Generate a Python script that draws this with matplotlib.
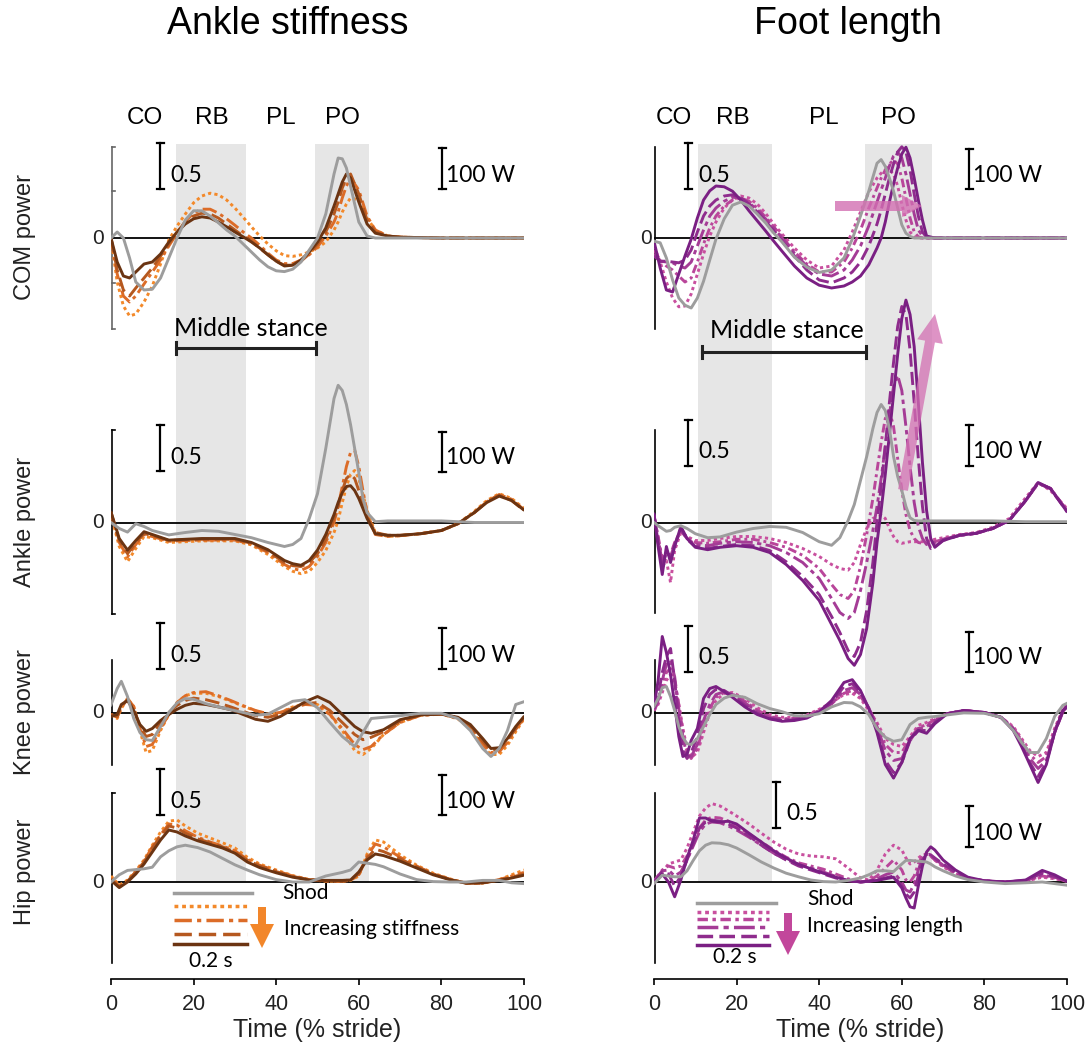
import numpy as np
import matplotlib
matplotlib.use("Agg")
import matplotlib.pyplot as plt
from matplotlib.patches import FancyArrow
from matplotlib.transforms import IdentityTransform

# ---------------- data (W) ----------------
# Left column: Ankle stiffness.  S1 = least stiff (dotted) ... S4 = stiffest (solid)
L_COM_X = [0, 1.5, 3, 4.5, 6, 8, 10, 12, 14, 16, 18, 20, 22, 24, 26, 28, 30, 32, 34, 36, 38, 40, 42, 44, 46, 48,
           50, 52, 54, 55, 56, 57, 58, 60, 62, 64, 67, 70, 80, 90, 100]
L_COM_SHOD = [0, 15, 0, -50, -110, -130, -128, -100, -50, 0, 45, 68, 68, 55, 38, 20, 5, -15, -35, -55, -72, -82, -84,
              -78, -60, -30, 0, 60, 160, 200, 198, 175, 130, 40, 5, 0, 0, 0, 0, 0, 0]
L_COM_S1 = [0, -110, -170, -195, -190, -160, -120, -65, -5, 30, 60, 88, 105, 112, 108, 95, 75, 52, 28, 5, -15, -32,
            -44, -46, -42, -35, -25, -10, 20, 40, 65, 85, 100, 95, 50, 20, 5, 2, 0, 0, 0]
L_COM_S2 = [0, -90, -145, -160, -145, -115, -85, -55, -20, 12, 42, 62, 72, 72, 62, 48, 32, 15, 0, -18, -38, -55, -64,
            -64, -55, -42, -22, 5, 40, 65, 100, 130, 150, 120, 55, 20, 5, 2, 0, 0, 0]
L_COM_S3 = [0, -80, -130, -145, -125, -100, -75, -45, -15, 15, 40, 55, 62, 60, 50, 35, 20, 5, -8, -25, -42, -58, -68,
            -68, -58, -40, -15, 15, 60, 90, 125, 150, 160, 110, 45, 15, 5, 2, 0, 0, 0]
L_COM_S4 = [0, -60, -95, -100, -85, -65, -60, -40, -10, 15, 35, 48, 53, 50, 40, 28, 15, 3, -10, -25, -42, -58, -70,
            -68, -55, -35, -10, 25, 80, 110, 140, 160, 150, 90, 35, 12, 5, 2, 0, 0, 0]

L_ANK_X = [0, 2, 4, 6, 8, 10, 14, 18, 22, 26, 30, 34, 38, 42, 44, 46, 48, 50, 52, 54, 55, 56, 57, 58, 59, 60, 61, 62,
           64, 67, 70, 75, 80, 84, 88, 91, 94, 97, 100]
L_ANK_SHOD = [0, -15, -24, -3, -10, -20, -31, -25, -20, -22, -30, -38, -50, -60, -55, -40, 10, 72, 185, 310, 343, 330,
              295, 245, 185, 125, 60, 25, 2, 4, 4, 4, 4, 2, 0, 0, 0, 0, 0]
L_ANK_S1 = [20, -60, -98, -65, -35, -38, -50, -48, -46, -46, -46, -56, -80, -110, -122, -128, -122, -100, -70, -25, 5,
            50, 90, 120, 130, 110, 70, 30, -25, -35, -33, -28, -20, -3, 28, 55, 72, 60, 35]
L_ANK_S2 = [22, -50, -86, -55, -30, -35, -47, -45, -44, -44, -44, -54, -75, -105, -115, -120, -110, -85, -50, 0, 40,
            90, 140, 175, 180, 140, 80, 25, -30, -35, -33, -28, -20, -3, 25, 52, 70, 58, 32]
L_ANK_S3 = [26, -45, -78, -50, -28, -32, -45, -43, -42, -42, -42, -52, -72, -100, -108, -110, -100, -78, -42, 10, 40,
            80, 110, 120, 110, 80, 45, 15, -25, -32, -32, -28, -20, -3, 25, 52, 68, 55, 30]
L_ANK_S4 = [26, -40, -69, -45, -23, -30, -44, -42, -40, -40, -40, -50, -68, -95, -103, -107, -95, -69, -30, 20, 50, 75,
            90, 92, 80, 60, 35, 10, -28, -32, -32, -28, -20, -3, 25, 50, 66, 55, 31]

L_KNE_X = [0, 1.5, 2.5, 4, 5.5, 7, 8.5, 10, 12, 14, 16, 18, 20, 23, 26, 29, 32, 35, 38, 41, 44, 47, 50, 53, 56, 59, 61,
           63, 66, 70, 75, 80, 84, 87, 90, 92, 94, 96, 98, 100]
L_KNE_SHOD = [19, 60, 78, 40, -15, -50, -68, -70, -35, 0, 24, 35, 33, 22, 14, 7, 0, -7, -4, 12, 28, 32, 12, -25, -60,
              -85, -50, -15, -12, -8, -2, -2, -15, -45, -90, -110, -90, -45, 20, 27]
L_KNE_S1 = [-5, -15, 10, 35, 15, -45, -100, -95, -45, -5, 25, 42, 48, 48, 40, 28, 16, 4, -4, 0, 14, 22, 20, -5, -45,
            -95, -105, -90, -55, -25, -7, -4, -16, -40, -85, -105, -105, -82, -48, -16]
L_KNE_S2 = [-5, -12, 12, 35, 15, -40, -85, -80, -40, -5, 25, 42, 50, 52, 42, 30, 17, 5, -3, 0, 12, 20, 18, -5, -40,
            -80, -93, -85, -55, -25, -7, -4, -14, -36, -80, -100, -98, -75, -42, -14]
L_KNE_S3 = [-5, -10, 15, 32, 10, -35, -60, -55, -25, 0, 18, 30, 36, 32, 24, 14, 3, -8, -12, -5, 10, 22, 25, 5, -25,
            -55, -68, -62, -48, -22, -6, -4, -14, -34, -72, -95, -92, -70, -40, -12]
L_KNE_S4 = [-10, -5, 20, 30, 5, -30, -47, -40, -20, -5, 8, 18, 23, 20, 14, 7, -5, -17, -22, -10, 8, 27, 40, 25, -5,
            -35, -48, -52, -43, -18, -6, -4, -12, -30, -65, -90, -88, -65, -35, -10]

L_HIP_X = [0, 2, 4, 6, 8, 10, 12, 14, 16, 18, 21, 24, 27, 30, 33, 36, 40, 44, 48, 52, 56, 58, 60, 62, 64, 66, 70, 74,
           78, 82, 86, 90, 94, 97, 100]
L_HIP_SHOD = [0, 18, 29, 31, 33, 37, 63, 78, 88, 92, 86, 75, 59, 43, 30, 18, 6, 0, 0, 15, 24, 30, 50, 47, 44, 38, 20,
              6, 1, 0, 0, 4, 4, -2, -4]
L_HIP_S1 = [15, -8, 5, 28, 55, 92, 125, 152, 155, 140, 122, 110, 98, 85, 62, 45, 30, 16, 6, 2, 2, 4, 15, 70, 105, 100,
            68, 42, 22, 8, -3, -3, 6, 18, 30]
L_HIP_S2 = [10, -10, 3, 25, 52, 88, 118, 145, 142, 128, 112, 100, 90, 78, 57, 42, 28, 15, 6, 2, 2, 4, 18, 65, 95, 88,
            62, 40, 20, 7, -3, -3, 6, 15, 24]
L_HIP_S3 = [8, -12, 2, 25, 50, 85, 115, 140, 135, 122, 108, 98, 88, 75, 55, 40, 26, 14, 6, 3, 3, 5, 20, 60, 82, 76,
            58, 38, 20, 7, -3, -2, 5, 12, 20]
L_HIP_S4 = [4, -14, 0, 20, 45, 75, 105, 130, 125, 115, 103, 94, 85, 72, 50, 36, 23, 12, 5, 4, 4, 5, 25, 55, 70, 66,
            52, 35, 18, 6, -3, -2, 4, 10, 17]

# Right column: Foot length.  P1 = shortest (dotted) ... P5 = longest (solid)
R_COM_X = [0, 1.5, 3, 4.5, 6, 7.5, 9, 10.5, 12, 13.5, 15, 17, 19, 21, 23, 25, 27, 29, 31, 34, 37, 40, 43, 46, 48, 50,
           52, 54, 55, 56, 57, 58, 59, 60, 61, 62, 63, 64, 65, 66, 68, 70, 80, 90, 100]
R_COM_SHOD = [-8, -12, -50, -105, -150, -168, -175, -150, -108, -55, -3, 48, 82, 90, 80, 60, 38, 12, -10, -48, -73,
              -86, -80, -50, -3, 55, 117, 187, 196, 179, 150, 117, 75, 33, 12, 4, 0, 0, 0, 0, 0, 0, 0, 0, 0]
R_COM_P1 = [-20, -60, -110, -150, -172, -170, -140, -90, -40, 5, 40, 75, 95, 105, 100, 85, 62, 35, 10, -25, -55, -75,
            -70, -30, 15, 65, 115, 150, 162, 170, 170, 160, 130, 85, 45, 15, 3, 0, 0, 0, 0, 0, 0, 0, 0]
R_COM_P2 = [-30, -55, -70, -80, -95, -110, -100, -60, -15, 25, 55, 80, 95, 100, 92, 75, 52, 28, 3, -35, -65, -85, -85,
            -60, -25, 20, 75, 125, 150, 170, 185, 195, 185, 150, 100, 50, 15, 3, 0, 0, 0, 0, 0, 0, 0]
R_COM_P3 = [-40, -58, -60, -62, -70, -75, -60, -20, 20, 55, 75, 92, 102, 100, 88, 70, 48, 25, 0, -38, -70, -90, -95,
            -80, -55, -20, 30, 90, 120, 150, 180, 205, 215, 200, 160, 110, 60, 20, 5, 0, 0, 0, 0, 0, 0]
R_COM_P4 = [-45, -58, -58, -60, -62, -55, -30, 15, 55, 80, 95, 105, 108, 100, 85, 65, 42, 18, -8, -45, -80, -105,
            -112, -100, -85, -60, -20, 35, 70, 110, 150, 185, 215, 228, 215, 170, 110, 55, 15, 2, 0, 0, 0, 0, 0]
R_COM_P5 = [-8, -75, -130, -135, -90, -45, -3, 50, 95, 118, 130, 128, 117, 95, 68, 43, 18, -8, -33, -70, -100, -118,
            -125, -120, -110, -95, -67, -25, 0, 40, 90, 135, 175, 210, 227, 200, 150, 95, 45, 5, 0, 0, 0, 0, 0]

R_ANK_X = [0, 1, 2, 3, 4, 5, 6.5, 8, 10, 13, 16, 20, 24, 28, 32, 36, 40, 43, 45, 47, 48.5, 50, 51.5, 53, 54, 55, 56,
           57, 58, 59, 60, 61, 62, 63, 64, 65, 66, 67, 68, 70, 74, 78, 82, 86, 90, 93, 96, 100]
R_ANK_SHOD = [0, -8, -15, -22, -20, -12, -8, -15, -28, -38, -36, -24, -15, -10, -12, -25, -48, -57, -38, 5, 45, 105,
              165, 235, 275, 295, 280, 235, 165, 115, 80, 40, 12, 5, 4, 4, 4, 4, 4, 4, 4, 4, 4, 3, 2, 2, 2, 2]
R_ANK_P1 = [15, -40, -110, -95, -150, -70, -25, -35, -45, -45, -40, -35, -35, -40, -50, -65, -85, -105, -115, -119,
            -100, -55, -15, 10, 15, 18, 10, -15, -35, -48, -52, -50, -48, -48, -48, -48, -48, -45, -42, -38, -30, -25,
            -12, 10, 62, 100, 80, 35]
R_ANK_P2 = [15, -35, -90, -80, -80, -50, -20, -38, -50, -52, -48, -42, -42, -50, -62, -82, -115, -155, -180, -190,
            -170, -110, -30, 60, 130, 200, 260, 280, 240, 160, 80, 20, -20, -40, -50, -52, -52, -50, -48, -42, -32,
            -27, -15, 5, 55, 98, 85, 30]
R_ANK_P3 = [18, -40, -100, -75, -85, -55, -20, -40, -55, -58, -52, -48, -50, -58, -75, -100, -140, -190, -225, -240,
            -225, -170, -100, -20, 40, 110, 190, 270, 340, 368, 330, 240, 140, 50, -10, -40, -55, -55, -50, -42, -32,
            -27, -15, 5, 55, 98, 85, 30]
R_ANK_P4 = [20, -50, -115, -70, -90, -55, -15, -42, -60, -65, -60, -55, -58, -70, -98, -135, -180, -235, -275, -320,
            -335, -300, -220, -100, 0, 90, 190, 300, 400, 490, 540, 520, 430, 300, 160, 40, -40, -65, -60, -45, -32,
            -27, -15, 5, 55, 98, 85, 27]
R_ANK_P5 = [22, -60, -130, -60, -100, -60, -10, -40, -62, -68, -62, -58, -62, -75, -105, -145, -195, -255, -295, -340,
            -357, -330, -265, -150, -50, 30, 120, 220, 320, 420, 510, 556, 520, 440, 300, 150, 30, -40, -62, -45, -32,
            -27, -15, 5, 55, 100, 85, 27]

R_KNE_X = [0, 1, 2, 3, 4, 5, 6, 7, 8, 9, 10.5, 12, 13.5, 15, 17, 19, 22, 25, 28, 31, 34, 37, 40, 43, 46, 48, 50, 52,
           54, 56, 58, 60, 62, 64, 66, 68, 71, 75, 80, 84, 87, 89, 91, 93, 95, 97, 99, 100]
R_KNE_SHOD = [15, 35, 62, 65, 40, 5, -35, -62, -78, -80, -65, -35, -5, 20, 36, 43, 38, 22, 10, 2, -8, -9, -3, 14, 25,
              24, 14, -5, -40, -62, -72, -68, -30, -15, -12, -10, -6, -1, -2, -12, -45, -75, -100, -100, -65, -10, 18,
              23]
R_KNE_P1 = [5, 20, 50, 80, 95, 70, 20, -40, -90, -112, -100, -50, 0, 30, 48, 50, 35, 12, -5, -12, -12, -6, 8, 25, 45,
            48, 35, 5, -25, -65, -80, -85, -60, -32, -25, -15, -3, 5, 0, -12, -35, -65, -95, -110, -100, -40, 8, 20]
R_KNE_P2 = [5, 25, 65, 100, 110, 80, 20, -50, -100, -115, -90, -35, 10, 38, 50, 46, 28, 6, -10, -16, -14, -8, 5, 22,
            48, 55, 40, 10, -30, -80, -100, -100, -65, -38, -30, -18, -3, 5, 0, -12, -38, -70, -105, -125, -110, -45,
            5, 18]
R_KNE_P3 = [8, 30, 80, 120, 130, 90, 10, -60, -110, -110, -80, -20, 20, 45, 52, 45, 24, 3, -12, -18, -16, -10, 3, 22,
            55, 62, 45, 12, -35, -95, -120, -115, -70, -40, -35, -20, -3, 5, 0, -12, -40, -75, -115, -140, -120, -50,
            2, 15]
R_KNE_P4 = [10, 40, 100, 140, 160, 80, -20, -95, -115, -100, -60, 10, 45, 58, 55, 42, 18, -2, -15, -20, -18, -12, 2,
            25, 65, 72, 50, 10, -45, -120, -150, -125, -70, -45, -45, -25, -3, 5, 0, -12, -42, -80, -125, -160, -125,
            -50, 2, 15]
R_KNE_P5 = [15, 80, 190, 150, 95, 20, -60, -110, -105, -70, -40, 35, 60, 65, 52, 38, 14, -5, -16, -22, -20, -14, 2,
            30, 75, 82, 55, 10, -50, -130, -164, -125, -65, -45, -52, -28, -3, 5, 0, -12, -45, -85, -130, -175, -130,
            -50, 5, 15]

R_HIP_X = [0, 2, 3.5, 5, 6.5, 8, 9.5, 11, 12.5, 14, 16, 18, 20, 23, 26, 29, 32, 35, 38, 41, 44, 47, 50, 52, 54, 56,
           58, 60, 61, 62, 63, 64, 65, 66, 67, 68, 70, 73, 76, 80, 85, 90, 94, 97, 100]
R_HIP_SHOD = [-4, 17, 15, 13, 13, 28, 54, 78, 92, 98, 97, 93, 85, 68, 50, 35, 22, 13, 5, 1, 0, 4, 10, 18, 28, 28, 26,
              45, 54, 54, 53, 52, 51, 50, 45, 38, 28, 15, 6, 0, -4, -2, 0, -4, -8]
R_HIP_P1 = [0, 25, 45, 50, 55, 85, 125, 165, 185, 196, 190, 178, 165, 145, 122, 100, 82, 70, 65, 63, 58, 35, 10, 5,
            30, 70, 92, 80, 60, 45, 50, 60, 68, 70, 65, 55, 38, 20, 8, 2, 0, 2, 12, 8, 2]
R_HIP_P2 = [2, 30, 40, 35, 40, 65, 100, 135, 155, 162, 160, 152, 140, 120, 100, 80, 62, 48, 40, 32, 20, 8, 0, 3, 15,
            35, 55, 30, 5, 0, 15, 45, 65, 70, 65, 55, 40, 22, 10, 3, 0, 3, 15, 10, 2]
R_HIP_P3 = [2, 28, 30, 15, 25, 55, 90, 125, 145, 150, 148, 140, 130, 112, 92, 72, 56, 44, 35, 25, 14, 5, 0, 2, 8, 18,
            25, 0, -20, -25, -5, 30, 60, 70, 65, 58, 42, 24, 10, 3, 0, 3, 18, 12, 2]
R_HIP_P4 = [0, 25, 20, -10, 15, 55, 95, 135, 150, 155, 152, 145, 135, 115, 92, 72, 55, 40, 30, 20, 10, 3, 0, 2, 5, 10,
            15, -10, -30, -40, -25, 15, 55, 70, 68, 60, 45, 25, 10, 3, 0, 4, 22, 14, 2]
R_HIP_P5 = [-4, 20, 0, -37, 5, 60, 105, 160, 160, 152, 150, 152, 145, 122, 100, 78, 60, 44, 33, 22, 12, 4, 0, 2, 4, 8,
            12, -15, -40, -62, -65, -10, 40, 75, 88, 80, 55, 30, 12, 3, 0, 5, 29, 18, 2]

ROWS = ["COM power", "Ankle power", "Knee power", "Hip power"]
TITLES = ["Ankle stiffness", "Foot length"]
PHASES = ["CO", "RB", "PL", "PO"]
L_SPANS = [(15.7, 32.6), (49.4, 62.5)]
R_SPANS = [(10.7, 28.5), (51.1, 67.2)]
XTICKS = [0, 20, 40, 60, 80, 100]

# ---------------- layout helpers ----------------
FW, FH = 1089, 1044
AX_TOP, AX_BOT = 100, 979
WPP = 2.5                    # W per pixel (100 W bar is 40 px)
PPX = 4.13                   # pixels per % stride
BASE = [238, 522.5, 712.5, 882]   # zero-line rows (px)

def yd(p):
    return (AX_BOT - p) * WPP

HEAD = "Liberation Sans"
BODY = "Lato"

fig = plt.figure(figsize=(FW / 100, FH / 100), dpi=100)

def ftext(px, py, s, **kw):
    fig.text(px / FW, 1 - py / FH, s, **kw)

GREY = "#9d9d9d"
ORANGES = ["#f3892a", "#dc6c28", "#b5581f", "#6b3412"]
O_STY = [(0, (1.1, 1.1)), (0, (5, 1.5, 1.2, 1.5)), (0, (5, 2)), "-"]
PURPLES = ["#c9509f", "#b9469a", "#a53c96", "#8f2c8d", "#7a1f83"]
P_STY = [(0, (1.1, 1.1)), (0, (3, 1.3, 1, 1.3)), (0, (6, 1.5, 1.5, 1.5)), (0, (4.5, 1.8)), "-"]

left_data = [
    (L_COM_X, L_COM_SHOD, [L_COM_S1, L_COM_S2, L_COM_S3, L_COM_S4]),
    (L_ANK_X, L_ANK_SHOD, [L_ANK_S1, L_ANK_S2, L_ANK_S3, L_ANK_S4]),
    (L_KNE_X, L_KNE_SHOD, [L_KNE_S1, L_KNE_S2, L_KNE_S3, L_KNE_S4]),
    (L_HIP_X, L_HIP_SHOD, [L_HIP_S1, L_HIP_S2, L_HIP_S3, L_HIP_S4]),
]
right_data = [
    (R_COM_X, R_COM_SHOD, [R_COM_P1, R_COM_P2, R_COM_P3, R_COM_P4, R_COM_P5]),
    (R_ANK_X, R_ANK_SHOD, [R_ANK_P1, R_ANK_P2, R_ANK_P3, R_ANK_P4, R_ANK_P5]),
    (R_KNE_X, R_KNE_SHOD, [R_KNE_P1, R_KNE_P2, R_KNE_P3, R_KNE_P4, R_KNE_P5]),
    (R_HIP_X, R_HIP_SHOD, [R_HIP_P1, R_HIP_P2, R_HIP_P3, R_HIP_P4, R_HIP_P5]),
]

cols = [
    dict(x0=111, data=left_data, colors=ORANGES, styles=O_STY, spans=L_SPANS, title_x=288,
         phase_x=[145, 212, 281, 342],
         bar05=[(160, 143, 189), (160, 425, 471), (160, 623, 669), (160, 769, 815)],
         bar100=[(442, 148, 189), (442, 432, 472), (442, 628, 669), (442, 775, 815)],
         spine=[(147, 329), (430, 614), (660, 765), (793, 963)],
         ms=(176, 316, 348, 251, 328), zero_x=98),
    dict(x0=654, data=right_data, colors=PURPLES, styles=P_STY, spans=R_SPANS, title_x=848,
         phase_x=[674, 733, 824, 898],
         bar05=[(688, 143, 189), (688, 420, 466), (688, 626, 672), (776, 782, 828)],
         bar100=[(969, 149, 189), (969, 425, 466), (969, 632, 672), (969, 806, 847)],
         spine=[(147, 329), (430, 613), (660, 765), (793, 963)],
         ms=(702, 866, 352, 787, 331), zero_x=646),
]

for ci, c in enumerate(cols):
    x0 = c["x0"]
    ax = fig.add_axes([x0 / FW, (FH - AX_BOT) / FH, 413 / FW, (AX_BOT - AX_TOP) / FH])
    ax.set_xlim(0, 100)
    ax.set_ylim(0, (AX_BOT - AX_TOP) * WPP)
    ax.patch.set_alpha(0)
    for s in ["top", "right", "left"]:
        ax.spines[s].set_visible(False)
    ax.spines["bottom"].set_linewidth(1.2)
    ax.set_yticks([])
    ax.set_xticks(XTICKS)
    ax.tick_params(axis="x", length=4, width=1.2, pad=7, labelsize=15.5)
    for lab in ax.get_xticklabels():
        lab.set_fontfamily(HEAD)
        lab.set_color("#222222")
    ax.set_xlabel("Time (% stride)", fontsize=18, family=HEAD, labelpad=2, color="#222222")

    def xd(px):
        return (px - x0) / PPX

    # shaded phases
    y_lo = (AX_BOT - 882) / (AX_BOT - AX_TOP)
    y_hi = (AX_BOT - 144) / (AX_BOT - AX_TOP)
    for a, b in c["spans"]:
        ax.axvspan(a, b, ymin=y_lo, ymax=y_hi, color="#e6e6e6", lw=0, zorder=0)

    for ri, (xs, shod, series) in enumerate(c["data"]):
        b0 = yd(BASE[ri])
        ax.plot([0, 100], [b0, b0], color="black", lw=1.3, zorder=2)
        for si, ser in enumerate(series):
            ax.plot(xs, b0 + np.array(ser, float), color=c["colors"][si], ls=c["styles"][si],
                    lw=2.1, zorder=3 + si * 0.1, solid_capstyle="round", solid_joinstyle="round")
        ax.plot(xs, b0 + np.array(shod, float), color=GREY, lw=2.1, zorder=4,
                solid_joinstyle="round")
        # row spine
        t, bt = c["spine"][ri]
        scol = "#666666" if (ci == 0 and ri == 0) else "black"
        ax.plot([xd(x0 + 0.5)] * 2, [yd(t), yd(bt)], color=scol, lw=1.2, zorder=2, clip_on=False)
        if ci == 0:
            ticks = [147, 191, 283, 329] if ri == 0 else ([t, bt] if ri == 1 else ([t] if ri == 3 else []))
            for tp in ticks:
                ax.plot([xd(x0 + 0.5), xd(x0 + 4)], [yd(tp)] * 2, color=scol, lw=1.2, clip_on=False)
        # zero label
        ftext(c["zero_x"], BASE[ri], "0", ha="center", va="center", fontsize=15, family=HEAD,
              color="#222222")
        # scale bars
        for (bx, bt_, bb), lbl, dx in [(c["bar05"][ri], "0.5", 10), (c["bar100"][ri], "100 W", 4)]:
            ax.plot([xd(bx)] * 2, [yd(bt_), yd(bb)], color="black", lw=1.6, clip_on=False)
            for yy in (bt_, bb):
                ax.plot([xd(bx - 3.5), xd(bx + 3.5)], [yd(yy)] * 2, color="black", lw=1.6, clip_on=False)
            ftext(bx + dx, bb - 14, lbl, ha="left", va="center", fontsize=16.5, family=BODY,
                  color="black")

    # phase labels and title
    for lbl, px in zip(PHASES, c["phase_x"]):
        ftext(px, 118, lbl, ha="center", va="center", fontsize=17.5, family=HEAD)
    ftext(c["title_x"], 24, TITLES[ci], ha="center", va="center", fontsize=27, family=HEAD)

    # middle stance bracket
    a, b, yy, tx, ty = c["ms"]
    ax.plot([xd(a), xd(b)], [yd(yy)] * 2, color="#222222", lw=2.2)
    for e in (a, b):
        ax.plot([xd(e)] * 2, [yd(yy - 6), yd(yy + 6)], color="#222222", lw=2.2)
    ftext(tx, ty, "Middle stance", ha="center", va="center", fontsize=18, family=BODY)

    # legend / 0.2 s bar
    if ci == 0:
        lx0, lx1 = 174, 252
        ys = [893, 906, 920, 934, 944]
        ax.plot([xd(lx0), xd(lx1)], [yd(ys[0])] * 2, color=GREY, lw=2.5)
        for si in range(4):
            ax.plot([xd(lx0), xd(lx1 - 5)], [yd(ys[si + 1])] * 2, color=ORANGES[si], ls=O_STY[si],
                    lw=2.5)
        ftext(282, 893, "Shod", ha="left", va="center", fontsize=15, family=BODY)
        ftext(284, 929, "Increasing stiffness", ha="left", va="center", fontsize=15, family=BODY)
        ftext(211, 961, "0.2 s", ha="center", va="center", fontsize=15, family=BODY)
        fig.add_artist(FancyArrow(262, FH - 907, 0, -41, width=8, head_width=24, head_length=24,
                                  length_includes_head=True, color="#f2862a", lw=0,
                                  transform=IdentityTransform()))
    else:
        lx0, lx1 = 697, 776
        ys = [903, 912, 919, 927, 936, 945]
        ax.plot([xd(lx0), xd(lx1)], [yd(ys[0])] * 2, color=GREY, lw=2.5)
        for si in range(5):
            ax.plot([xd(lx0), xd(lx1 - 7)], [yd(ys[si + 1])] * 2, color=PURPLES[si], ls=P_STY[si],
                    lw=2.5)
        ftext(807, 899, "Shod", ha="left", va="center", fontsize=15, family=BODY)
        ftext(807, 926, "Increasing length", ha="left", va="center", fontsize=15, family=BODY)
        ftext(735, 957, "0.2 s", ha="center", va="center", fontsize=15, family=BODY)
        fig.add_artist(FancyArrow(788, FH - 913, 0, -42, width=8, head_width=24, head_length=24,
                                  length_includes_head=True, color="#c2479b", lw=0,
                                  transform=IdentityTransform()))
        fig.add_artist(FancyArrow(835, FH - 206, 87, 0, width=10, head_width=22, head_length=20,
                                  length_includes_head=True, color="#d36fb2", alpha=0.8, lw=0,
                                  transform=IdentityTransform()))
        fig.add_artist(FancyArrow(903, FH - 490, 32, 176, width=10, head_width=26, head_length=28,
                                  length_includes_head=True, color="#d36fb2", alpha=0.75, lw=0,
                                  transform=IdentityTransform()))

# row labels
for lbl, py in zip(ROWS, [237, 522, 712, 872]):
    ftext(25, py, lbl, rotation=90, ha="center", va="center", fontsize=17, family=HEAD,
          color="#222222")

fig.savefig("out.png", dpi=100)
